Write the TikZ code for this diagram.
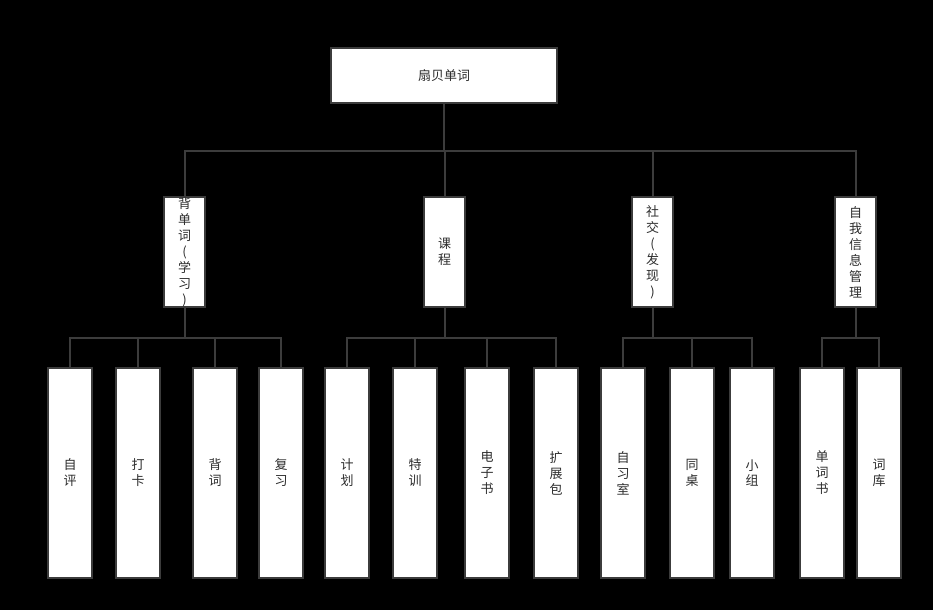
\documentclass[tikz,border=0pt]{standalone}
\usepackage{fontspec}
\usepackage{xcolor}
\newfontfamily\cjk{Noto Sans CJK SC}
\definecolor{lineGray}{RGB}{60,60,60}
\definecolor{textGray}{RGB}{45,45,45}

\begin{document}
\begin{tikzpicture}[x=1pt,y=1pt,yscale=-1,xscale=1,
    box/.style={draw=lineGray,fill=white,line width=2pt,inner sep=0pt,align=center,
      text=textGray,font=\cjk\fontsize{13}{16}\selectfont},
    rootbox/.style={box,minimum width=226pt,minimum height=55pt},
    midbox/.style={box,minimum width=41pt,minimum height=110pt},
    leafbox/.style={box,minimum width=44pt,minimum height=210pt},
    conn/.style={draw=lineGray,line width=2pt}]
      %set diagram area: 933 x 610, black ground
      \fill[black] (0,0) rectangle (933,610);

      %Root
      \node[rootbox] (app) at (444,75.5) {扇贝单词};

      %Second level
      \node[midbox] (study)  at (184.5,252) {背\\单\\词\\(\\学\\习\\)};
      \node[midbox] (course) at (444.5,252) {课\\程};
      \node[midbox] (social) at (652.5,252) {社\\交\\(\\发\\现\\)};
      \node[midbox] (self)   at (855.5,252) {自\\我\\信\\息\\管\\理};

      %Third level
      \node[leafbox] (selfEval)  at (70,473)  {自\\评};
      \node[leafbox] (checkIn)   at (138,473) {打\\卡};
      \node[leafbox] (recite)    at (215,473) {背\\词};
      \node[leafbox] (review)    at (281,473) {复\\习};
      \node[leafbox] (plan)      at (347,473) {计\\划};
      \node[leafbox] (training)  at (415,473) {特\\训};
      \node[leafbox] (ebook)     at (487,473) {电\\子\\书};
      \node[leafbox] (extPack)   at (556,473) {扩\\展\\包};
      \node[leafbox] (studyRoom) at (623,473) {自\\习\\室};
      \node[leafbox] (deskMate)  at (692,473) {同\\桌};
      \node[leafbox] (group)     at (752,473) {小\\组};
      \node[leafbox] (wordBook)  at (822,473) {单\\词\\书};
      \node[leafbox] (wordBank)  at (879,473) {词\\库};

      %Connectors
      \foreach \c in {study,course,social,self}
        \draw[conn] (app.south) -- ++(0,47) -| (\c.north);
      \foreach \c in {selfEval,checkIn,recite,review}
        \draw[conn] (study.south) -- ++(0,30) -| (\c.north);
      \foreach \c in {plan,training,ebook,extPack}
        \draw[conn] (course.south) -- ++(0,30) -| (\c.north);
      \foreach \c in {studyRoom,deskMate,group}
        \draw[conn] (social.south) -- ++(0,30) -| (\c.north);
      \foreach \c in {wordBook,wordBank}
        \draw[conn] (self.south) -- ++(0,30) -| (\c.north);
\end{tikzpicture}
\end{document}
